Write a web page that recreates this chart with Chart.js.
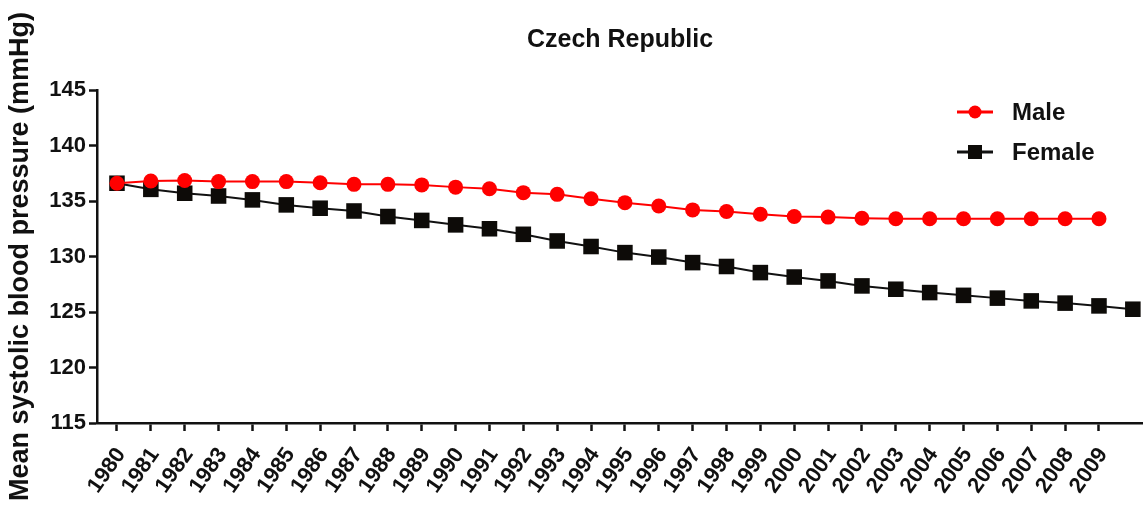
<!DOCTYPE html>
<html>
<head>
<meta charset="utf-8">
<script src="https://cdn.jsdelivr.net/npm/chart.js@4.4.1/dist/chart.umd.min.js"></script>
<style>
  html, body { margin: 0; padding: 0; background: #fff; }
  #wrap { width: 1143px; height: 508px; }
</style>
</head>
<body>
<div id="wrap"><canvas id="bp"></canvas></div>
<script>
const years = [1980, 1981, 1982, 1983, 1984, 1985, 1986, 1987, 1988, 1989,
               1990, 1991, 1992, 1993, 1994, 1995, 1996, 1997, 1998, 1999,
               2000, 2001, 2002, 2003, 2004, 2005, 2006, 2007, 2008, 2009, 2010];
const male = [136.6, 136.8, 136.85, 136.75, 136.75, 136.75, 136.65, 136.5, 136.5, 136.45,
              136.25, 136.1, 135.75, 135.6, 135.2, 134.85, 134.55, 134.2, 134.05, 133.8,
              133.6, 133.55, 133.45, 133.4, 133.4, 133.4, 133.4, 133.4, 133.4, 133.4];
const female = [136.6, 136.05, 135.7, 135.45, 135.1, 134.65, 134.35, 134.1, 133.6, 133.25,
                132.85, 132.5, 132.0, 131.4, 130.9, 130.35, 129.95, 129.45, 129.1, 128.55,
                128.15, 127.8, 127.35, 127.05, 126.75, 126.5, 126.25, 126.0, 125.8, 125.55, 125.25];
const yTicks = [115, 120, 125, 130, 135, 140, 145];
const lastLabelYear = 2009;

const FONT = 'Arial, "Liberation Sans", sans-serif';
const INK = '#111';

// legend drawn inside the plot, top right
const insideLegend = {
    id: 'insideLegend',
    afterDraw(chart) {
        const ctx = chart.ctx;
        const area = chart.chartArea;
        const x0 = area.right - 186;
        const y0 = area.top + 22;
        chart.data.datasets.forEach((ds, i) => {
            const y = y0 + i * 40;
            ctx.save();
            ctx.strokeStyle = ds.borderColor;
            ctx.fillStyle = ds.pointBackgroundColor;
            ctx.lineWidth = 3;
            ctx.beginPath();
            ctx.moveTo(x0, y);
            ctx.lineTo(x0 + 36, y);
            ctx.stroke();
            if (ds.pointStyle === 'rect') {
                ctx.fillRect(x0 + 11, y - 7, 14, 14);
            } else {
                ctx.beginPath();
                ctx.arc(x0 + 18, y, 6.5, 0, Math.PI * 2);
                ctx.fill();
            }
            ctx.fillStyle = INK;
            ctx.font = 'bold 24px ' + FONT;
            ctx.textBaseline = 'middle';
            ctx.fillText(ds.label, x0 + 55, y + 1);
            ctx.restore();
        });
    }
};

const ctx = document.getElementById('bp').getContext('2d');
new Chart(ctx, {
    type: 'line',
    data: {
        datasets: [
            {
                label: 'Male',
                data: male.map((v, i) => ({ x: years[i], y: v })),
                borderColor: '#ff0000',
                backgroundColor: '#ff0000',
                pointBackgroundColor: '#ff0000',
                pointBorderWidth: 0,
                pointStyle: 'circle',
                pointRadius: 7.5,
                borderWidth: 2,
                tension: 0
            },
            {
                label: 'Female',
                data: female.map((v, i) => ({ x: years[i], y: v })),
                borderColor: '#111',
                backgroundColor: '#111',
                pointBackgroundColor: '#0d0b08',
                pointBorderWidth: 0,
                pointStyle: 'rect',
                pointRadius: 11,
                borderWidth: 2,
                tension: 0
            }
        ]
    },
    options: {
        responsive: true,
        maintainAspectRatio: false,
        animation: false,
        layout: { padding: 0, autoPadding: false },
        plugins: {
            legend: { display: false },
            tooltip: { enabled: false },
            title: {
                display: true,
                text: 'Czech Republic',
                color: INK,
                fullSize: false,
                font: { family: FONT, size: 25, weight: 'bold' },
                padding: { top: 25, bottom: 35 }
            }
        },
        scales: {
            x: {
                type: 'linear',
                min: 1979.41,
                max: 2010.3,
                afterBuildTicks: scale => {
                    scale.ticks = years.filter(y => y <= lastLabelYear).map(y => ({ value: y }));
                },
                afterFit: scale => { scale.height = 85; },
                grid: { drawOnChartArea: false, tickLength: 8, tickWidth: 2.5, tickColor: INK },
                border: { color: INK, width: 2.5 },
                ticks: {
                    color: INK,
                    autoSkip: false,
                    maxRotation: 55,
                    minRotation: 55,
                    padding: 12,
                    labelOffset: 4,
                    font: { family: FONT, size: 22, weight: 'bold' },
                    callback: v => String(v)
                }
            },
            y: {
                min: 115,
                max: 145,
                afterBuildTicks: scale => {
                    scale.ticks = yTicks.map(v => ({ value: v }));
                },
                afterFit: scale => { scale.width = 97; },
                grid: { drawOnChartArea: false, tickLength: 8, tickWidth: 2.5, tickColor: INK },
                border: { color: INK, width: 2.5 },
                title: {
                    display: true,
                    text: 'Mean systolic blood pressure (mmHg)',
                    color: INK,
                    font: { family: FONT, size: 27, weight: 'bold' },
                    padding: { top: 4, bottom: 0 }
                },
                ticks: {
                    color: INK,
                    padding: 3,
                    font: { family: FONT, size: 22, weight: 'bold' }
                }
            }
        }
    },
    plugins: [insideLegend]
});
</script>
</body>
</html>
